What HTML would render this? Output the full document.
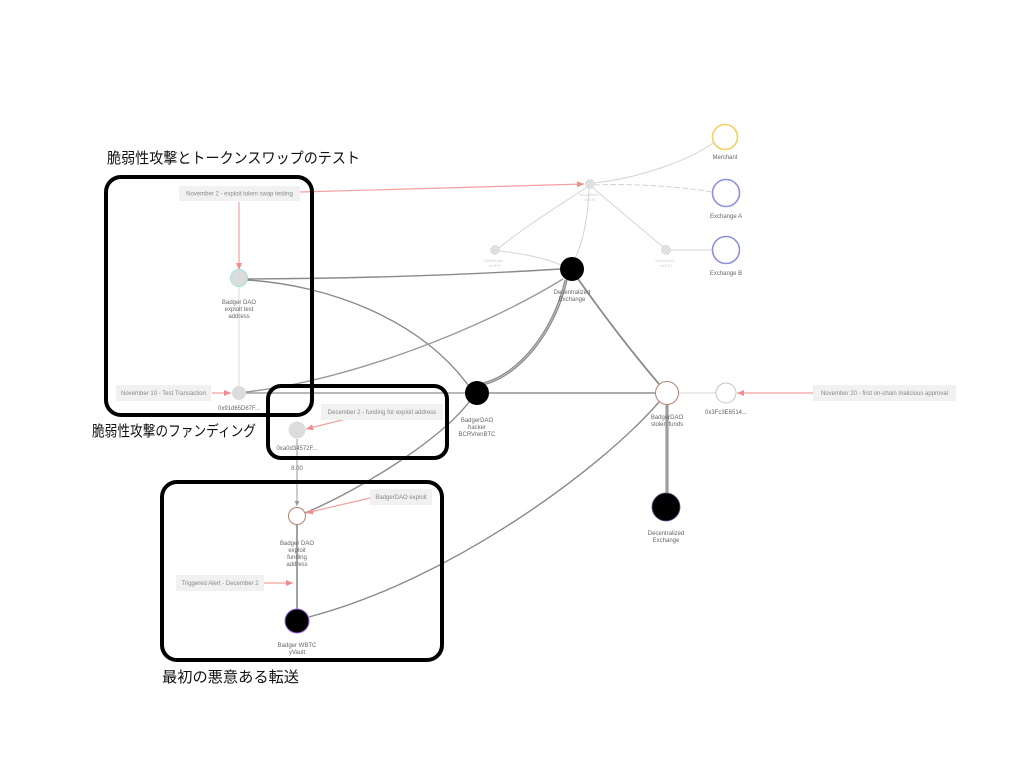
<!DOCTYPE html>
<html><head><meta charset="utf-8">
<style>
html,body{margin:0;padding:0;background:#fff;}
svg{display:block;}
.lbl{font-family:"Liberation Sans",sans-serif;font-size:6px;fill:#666;text-anchor:middle;}
.ann{font-family:"Liberation Sans",sans-serif;font-size:6px;fill:#888;text-anchor:middle;}
.tiny{font-family:"Liberation Sans",sans-serif;font-size:3.5px;fill:#ccc;text-anchor:middle;}
.title{font-family:"Liberation Sans","Noto Sans CJK JP",sans-serif;font-size:15px;fill:#111;}
</style></head>
<body>
<svg width="1024" height="771" viewBox="0 0 1024 771" xmlns="http://www.w3.org/2000/svg">
<defs>
<marker id="ar" markerWidth="8" markerHeight="8" refX="7" refY="4" orient="auto" markerUnits="userSpaceOnUse">
<path d="M0,1 L7,4 L0,7 Z" fill="#f08c8c"/>
</marker>
<marker id="ag" markerWidth="6" markerHeight="6" refX="5" refY="3" orient="auto" markerUnits="userSpaceOnUse">
<path d="M0,0.5 L5,3 L0,5.5 Z" fill="#999"/>
</marker>
<pattern id="stripe" width="2.5" height="2.5" patternUnits="userSpaceOnUse" patternTransform="rotate(-45)">
<rect width="2.5" height="2.5" fill="#d6d6d6"/>
<rect width="2.5" height="0.8" fill="#f4f4f4"/>
</pattern>
</defs>
<rect width="1024" height="771" fill="#fff"/>

<!-- faint gray edges -->
<g fill="none" stroke="#d4d4d4" stroke-width="1">
<path d="M594,183 C640,178 690,160 713,143"/>
<path d="M594,185 C640,183 690,188 712,192" stroke-dasharray="6,2"/>
<path d="M587,187 C560,205 520,230 499,248"/>
<path d="M589,189 C588,220 582,245 575,258"/>
<path d="M593,188 L663,247"/>
<path d="M670,250 L712,250"/>
<path d="M499,251 C520,253 545,258 561,265"/>
<path d="M679,393 L716,393"/>
</g>
<path d="M239,287 L239,386" stroke="#ecd6d6" stroke-width="1" fill="none"/>

<!-- main gray edges -->
<g fill="none" stroke="#8a8a8a" stroke-width="1.4">
<path d="M247,279 Q420,278 560,269"/>
<path d="M247,280 C330,285 420,320 468,385"/>
<path d="M246,393 L465,393" stroke="#a0a0a0"/>
<path d="M246,392 C350,380 480,330 563,279" stroke="#9a9a9a"/>
<path d="M578,279 C600,310 630,350 659,384" stroke-width="1.8"/>
<path d="M489,393 L655,393" stroke="#a0a0a0" stroke-width="1.8"/>
<path d="M659,402 C600,470 450,580 309,617"/>
<path d="M469,402 C440,440 360,490 305,513"/>
<path d="M297,439 L297,506" stroke="#999" stroke-width="1" marker-end="url(#ag)"/>
<path d="M297,525 L297,609" stroke-width="1.6"/>
</g>
<path d="M483,384 C520,375 555,330 566,280" fill="none" stroke="#8a8a8a" stroke-width="3.2"/>
<path d="M483,384 C520,375 555,330 566,280" fill="none" stroke="#c8c8c8" stroke-width="0.8"/>
<path d="M667,405 L667,493" fill="none" stroke="#8a8a8a" stroke-width="3"/>
<path d="M667,405 L667,493" fill="none" stroke="#bbb" stroke-width="0.8"/>

<!-- red arrows -->
<g fill="none" stroke="#f2a0a0" stroke-width="1.2">
<path d="M300,192 L584,184" marker-end="url(#ar)"/>
<path d="M239,202 L239,270" marker-end="url(#ar)"/>
<path d="M212,393 L231,393" marker-end="url(#ar)"/>
<path d="M346,419 L306,429" marker-end="url(#ar)"/>
<path d="M370,498 L306,513" marker-end="url(#ar)"/>
<path d="M264,583 L293,583" marker-end="url(#ar)"/>
<path d="M813,393 L737,393" marker-end="url(#ar)"/>
</g>

<!-- annotation boxes -->
<g fill="#f1f1f1">
<rect x="179" y="186" width="121" height="15"/>
<rect x="116" y="385" width="95" height="16"/>
<rect x="321" y="404" width="122" height="16"/>
<rect x="370" y="489" width="62" height="16"/>
<rect x="176" y="575" width="88" height="16"/>
<rect x="813" y="385" width="143" height="16"/>
</g>
<text class="ann" x="239.5" y="195.5">November 2 - exploit token swap testing</text>
<text class="ann" x="163.5" y="395">November 10 - Test Transaction</text>
<text class="ann" x="382" y="414">December 2 - funding for exploit address</text>
<text class="ann" x="401" y="499">BadgerDAO exploit</text>
<text class="ann" x="220" y="585">Triggered Alert - December 2</text>
<text class="ann" x="884.5" y="395">November 20 - first on-chain malicious approval</text>

<!-- nodes -->
<circle cx="725" cy="137" r="12.5" fill="#fff" stroke="#f7cf5c" stroke-width="1.6"/>
<circle cx="726" cy="193" r="13.5" fill="#fff" stroke="#8c92d8" stroke-width="1.6"/>
<circle cx="726" cy="250" r="13.5" fill="#fff" stroke="#8c92d8" stroke-width="1.6"/>
<circle cx="590" cy="184" r="4.5" fill="url(#stripe)" stroke="#d0d0d0" stroke-width="0.5"/>
<circle cx="495" cy="250" r="4.5" fill="url(#stripe)" stroke="#d0d0d0" stroke-width="0.5"/>
<circle cx="666" cy="250" r="4.5" fill="url(#stripe)" stroke="#d0d0d0" stroke-width="0.5"/>
<circle cx="572" cy="269" r="12" fill="#000"/>
<circle cx="239" cy="278" r="8.5" fill="#dcdcdc" stroke="#9fe0dc" stroke-width="1"/>
<circle cx="239" cy="393" r="7" fill="#dcdcdc"/>
<circle cx="477" cy="393" r="12" fill="#000"/>
<circle cx="667" cy="393" r="11.5" fill="#fff" stroke="#b48070" stroke-width="1"/>
<circle cx="726" cy="393" r="10" fill="#fff" stroke="#c4c4c4" stroke-width="1"/>
<circle cx="666" cy="507" r="14" fill="#000" stroke="#6a4a90" stroke-width="0.8"/>
<circle cx="297" cy="430" r="8.5" fill="#dcdcdc"/>
<circle cx="297" cy="516" r="8.5" fill="#fff" stroke="#b48070" stroke-width="1"/>
<circle cx="297" cy="621" r="12" fill="#000" stroke="#9a60e0" stroke-width="1"/>

<!-- node labels -->
<text class="lbl" x="725" y="159">Merchant</text>
<text class="lbl" x="726" y="218">Exchange A</text>
<text class="lbl" x="726" y="275">Exchange B</text>
<text class="tiny" x="590" y="196">0x1a2b3c4d...</text>
<text class="tiny" x="590" y="201">on ETH</text>
<text class="tiny" x="495" y="262">0x5e6f7a8b...</text>
<text class="tiny" x="495" y="267">on ETH</text>
<text class="tiny" x="666" y="262">0x9c0d1e2f...</text>
<text class="tiny" x="666" y="267">on ETH</text>
<text class="lbl" x="572" y="294">Decentralized</text>
<text class="lbl" x="572" y="301">Exchange</text>
<text class="lbl" x="239" y="304">Badger DAO</text>
<text class="lbl" x="239" y="311">exploit test</text>
<text class="lbl" x="239" y="318">address</text>
<text class="lbl" x="239" y="410">0x91d65D67F...</text>
<text class="lbl" x="477" y="422">BadgerDAO</text>
<text class="lbl" x="477" y="429">hacker</text>
<text class="lbl" x="477" y="436">BCRVrenBTC</text>
<text class="lbl" x="667" y="419">BadgerDAO</text>
<text class="lbl" x="667" y="426">stolen funds</text>
<text class="lbl" x="726" y="414">0x3Fc3E6514...</text>
<text class="lbl" x="666" y="535">Decentralized</text>
<text class="lbl" x="666" y="542">Exchange</text>
<text class="lbl" x="297" y="450">0xa0d34572F...</text>
<text class="lbl" x="297" y="470">8.00</text>
<text class="lbl" x="297" y="545">Badger DAO</text>
<text class="lbl" x="297" y="552">exploit</text>
<text class="lbl" x="297" y="559">funding</text>
<text class="lbl" x="297" y="566">address</text>
<text class="lbl" x="297" y="647">Badger WBTC</text>
<text class="lbl" x="297" y="654">yVault</text>

<!-- black grouping boxes -->
<g fill="none" stroke="#000" stroke-width="4">
<rect x="106" y="177" width="206" height="238" rx="15" ry="15"/>
<rect x="268" y="386" width="179" height="72" rx="13" ry="13"/>
<rect x="162" y="482" width="280" height="178" rx="15" ry="15"/>
</g>

<!-- titles -->
<text class="title" x="107" y="163" textLength="253" lengthAdjust="spacingAndGlyphs">脆弱性攻撃とトークンスワップのテスト</text>
<text class="title" x="92" y="436" textLength="164" lengthAdjust="spacingAndGlyphs">脆弱性攻撃のファンディング</text>
<text class="title" x="162" y="682" textLength="137" lengthAdjust="spacingAndGlyphs">最初の悪意ある転送</text>
</svg>
</body></html>
